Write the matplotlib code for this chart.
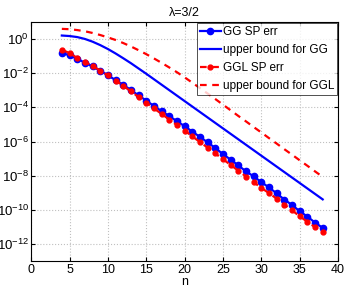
import numpy as np
import matplotlib.pyplot as plt
from matplotlib.ticker import LogLocator, NullLocator

plt.rcParams['font.family'] = ['Liberation Sans', 'DejaVu Sans']
plt.rcParams['mathtext.fontset'] = 'custom'
plt.rcParams['mathtext.rm'] = 'Liberation Sans'
plt.rcParams['mathtext.it'] = 'Liberation Sans:italic'

n = np.arange(4, 39)

# log10 of the errors
gg_err = [-0.82, -0.94, -1.16, -1.38, -1.60, -1.85, -2.12, -2.40, -2.68, -2.98,
          -3.30, -3.60, -3.92, -4.22, -4.51, -4.81, -5.10, -5.42, -5.73, -6.05,
          -6.38, -6.74, -7.06, -7.40, -7.75, -8.04, -8.38, -8.69, -9.04, -9.40,
          -9.72, -10.08, -10.40, -10.75, -11.06]
gg_bound = [0.21, 0.18, 0.12, 0.01, -0.15, -0.35, -0.58, -0.84, -1.12, -1.41,
            -1.72, -2.03, -2.35, -2.67, -2.99, -3.31, -3.63, -3.95, -4.27, -4.59,
            -4.91, -5.23, -5.55, -5.87, -6.19, -6.51, -6.83, -7.15, -7.47, -7.79,
            -8.11, -8.43, -8.75, -9.07, -9.39]
ggl_err = [-0.62, -0.82, -1.10, -1.33, -1.57, -1.84, -2.13, -2.43, -2.74, -3.06,
           -3.39, -3.72, -4.06, -4.38, -4.71, -5.04, -5.36, -5.70, -6.03, -6.36,
           -6.70, -7.04, -7.37, -7.71, -8.05, -8.38, -8.72, -9.02, -9.35, -9.70,
           -10.03, -10.38, -10.70, -11.02, -11.33]
ggl_bound = [0.60, 0.58, 0.53, 0.46, 0.36, 0.24, 0.10, -0.05, -0.23, -0.43,
             -0.65, -0.88, -1.13, -1.39, -1.66, -1.94, -2.24, -2.55, -2.87, -3.19,
             -3.51, -3.84, -4.17, -4.50, -4.82, -5.15, -5.47, -5.80, -6.12, -6.45,
             -6.77, -7.10, -7.42, -7.75, -8.07]

fig = plt.figure(figsize=(3.46, 2.90), dpi=100)
ax = fig.add_axes([0.09, 0.10, 0.887, 0.824])

ax.semilogy(n, 10.0 ** np.array(gg_err), '-o', color='#0000ff', lw=1.6, ms=4.5,
            label='GG SP err')
ax.semilogy(n, 10.0 ** np.array(gg_bound), '-', color='#0000ff', lw=1.6,
            label='upper bound for GG')
ax.semilogy(n, 10.0 ** np.array(ggl_err), '--o', color='#ff0000', lw=1.6, ms=3.5,
            dashes=(3, 2.5), label='GGL SP err')
ax.semilogy(n, 10.0 ** np.array(ggl_bound), '--', color='#ff0000', lw=1.6,
            dashes=(3, 2.5), label='upper bound for GGL')

ax.set_xlim(0, 40)
ax.set_ylim(1e-13, 1e1)
ax.set_xticks(range(0, 41, 5))
ax.yaxis.set_major_locator(LogLocator(base=100.0, numticks=20))
ax.yaxis.set_minor_locator(NullLocator())
ax.tick_params(direction='in', labelsize=9, top=True, right=True, length=3,
               pad=2)
ax.tick_params(axis='y', labelsize=9.5, pad=1.5)
ax.grid(True, linestyle=':', color='#c0c0c0', lw=0.8)
ax.set_xlabel('n', fontsize=9, labelpad=0)
ax.set_title('λ=3/2', fontsize=9, pad=4)

leg = ax.legend(loc='upper right', fontsize=8.5, frameon=True, fancybox=False,
                borderaxespad=0.1, handlelength=1.8, handletextpad=0.15,
                borderpad=0.25, labelspacing=0.5)
leg.get_frame().set_edgecolor('black')
leg.get_frame().set_linewidth(0.6)

fig.savefig('out.png', dpi=100)
